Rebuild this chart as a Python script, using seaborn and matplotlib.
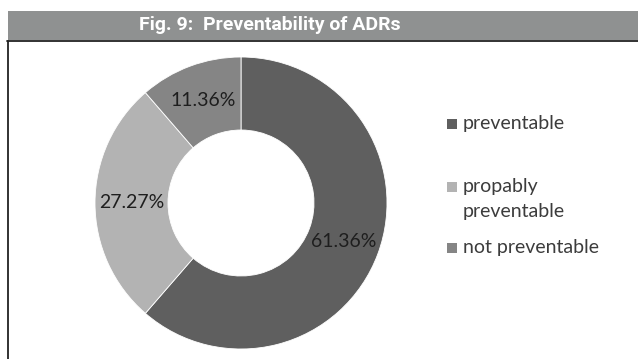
import matplotlib
matplotlib.use("Agg")
import matplotlib.pyplot as plt
from matplotlib.patches import Rectangle
from matplotlib.lines import Line2D
import seaborn as sns

# Preventability of adverse drug reactions
categories = ["preventable", "propably\npreventable", "not preventable"]
shares = [61.36, 27.27, 11.36]
slice_colors = ["#5f5f5f", "#b3b3b3", "#858585"]
title = "Fig. 9:  Preventability of ADRs"

sns.set_theme(style="white")
plt.rcParams["font.family"] = ["Lato", "DejaVu Sans"]

W, H = 638, 359
fig = plt.figure(figsize=(W / 100, H / 100), dpi=100)
fig.patch.set_facecolor("white")

def fx(px):
    return px / W

def fy(py):
    return 1 - py / H

# title band
fig.patches.append(Rectangle((fx(8), fy(40)), 1 - fx(8), fy(11) - fy(40),
                             transform=fig.transFigure, facecolor="#8f9191",
                             edgecolor="none", zorder=0))
fig.text(fx(270), fy(25.5), title, ha="center", va="center", color="white",
         fontsize=14, fontweight="bold",
         family=["Roboto", "DejaVu Sans"])

# frame of the chart area (top and left edges)
fig.lines.append(Line2D([fx(7), 1], [fy(40.5), fy(40.5)], transform=fig.transFigure,
                        color="#222222", linewidth=1.3))
fig.lines.append(Line2D([fx(7.5), fx(7.5)], [fy(40.5), 0], transform=fig.transFigure,
                        color="#222222", linewidth=1.3))

# doughnut
cx, cy, r = 241, 203, 146
ax = fig.add_axes([fx(cx - r), fy(cy + r), (2 * r) / W, (2 * r) / H])
wedges, _, autotexts = ax.pie(
    shares, colors=slice_colors, startangle=90, counterclock=False,
    radius=1, autopct=lambda p: "", pctdistance=0.75,
    wedgeprops=dict(width=0.5, edgecolor="white", linewidth=0.6),
)
for t, v in zip(autotexts, shares):
    t.set_text(f"{v:.2f}%")
    t.set_fontsize(14)
    t.set_color("#1e1e1e")
ax.set_xlim(-1, 1)
ax.set_ylim(-1, 1)
ax.set_aspect("equal")
ax.axis("off")

# legend
legend_rows = [124, 187, 248]
for label, col, yc in zip(categories, slice_colors, legend_rows):
    fig.patches.append(Rectangle((fx(447), fy(yc + 5)), fx(10), fy(yc - 5) - fy(yc + 5),
                                 transform=fig.transFigure, facecolor=col,
                                 edgecolor="none"))
    fig.text(fx(463), fy(yc - 9), label, ha="left", va="top", color="#3c3c3c",
             fontsize=14, linespacing=1.55)

fig.savefig("out.png", dpi=100, facecolor="white")
